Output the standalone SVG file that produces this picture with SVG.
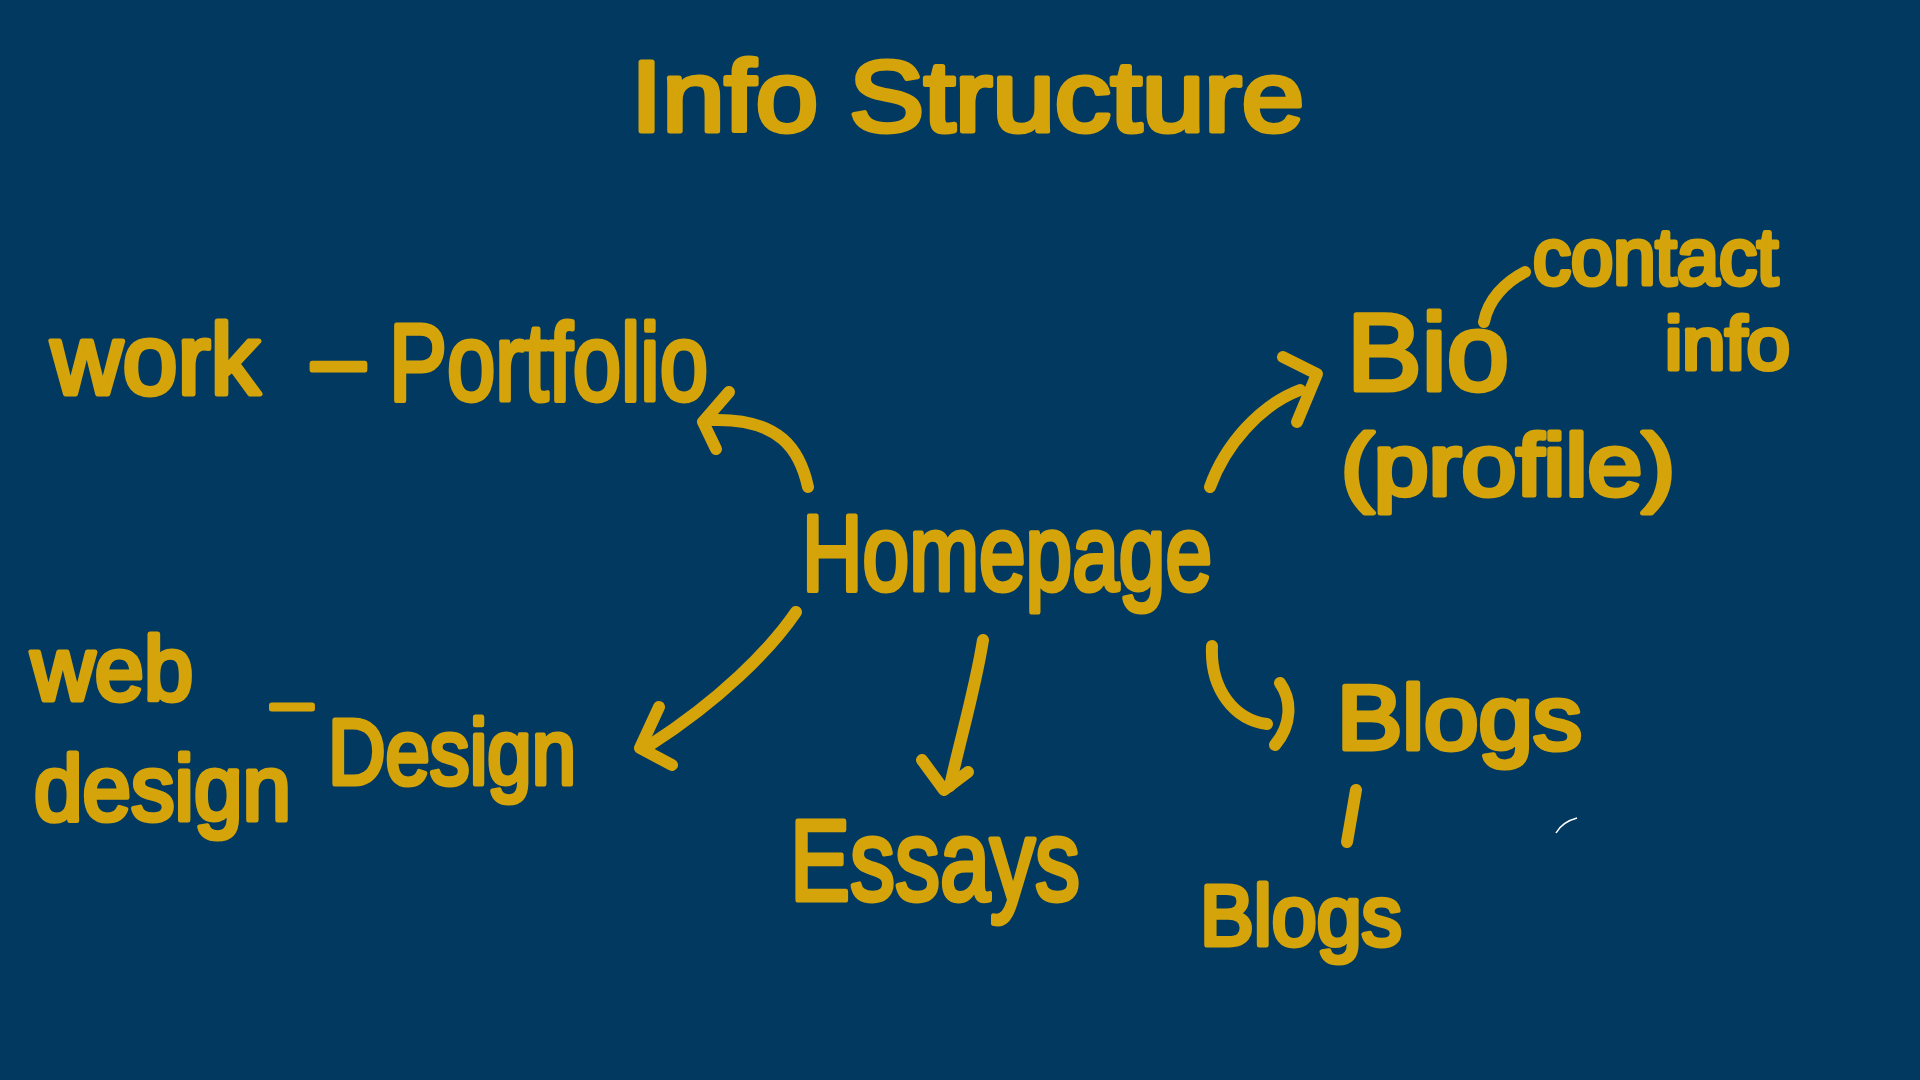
<svg xmlns="http://www.w3.org/2000/svg" width="1920" height="1080" viewBox="0 0 1920 1080">
<style>
.t{font-family:"Liberation Sans",Arial,sans-serif;font-weight:400;fill:#d5a30a;stroke:#d5a30a;stroke-width:5;stroke-linejoin:round;stroke-linecap:round}
.c{fill:none;stroke:#d5a30a;stroke-width:12;stroke-linecap:round;stroke-linejoin:round}
</style>
<rect width="1920" height="1080" fill="#013960"/>
<g id="title"><text class="t" x="631" y="131" font-size="100" textLength="673" lengthAdjust="spacingAndGlyphs">Info Structure</text></g>
<g id="homepage"><text class="t" x="802" y="590" font-size="108" textLength="410" lengthAdjust="spacingAndGlyphs">Homepage</text></g>
<g id="portfolio">
<text class="t" x="51" y="394" font-size="100" textLength="209" lengthAdjust="spacingAndGlyphs">work</text>
<text class="t" x="312" y="392" font-size="100" textLength="53" lengthAdjust="spacingAndGlyphs">–</text>
<text class="t" x="389" y="400" font-size="110" textLength="319" lengthAdjust="spacingAndGlyphs">Portfolio</text>
</g>
<g id="bio">
<text class="t" x="1347" y="390" font-size="110" textLength="162" lengthAdjust="spacingAndGlyphs">Bio</text>
<text class="t" x="1341" y="495" font-size="88" textLength="334" lengthAdjust="spacingAndGlyphs">(profile)</text>
<text class="t" x="1533" y="284" font-size="80" textLength="245" lengthAdjust="spacingAndGlyphs">contact</text>
<text class="t" x="1665" y="369" font-size="75" textLength="125" lengthAdjust="spacingAndGlyphs">info</text>
</g>
<g id="design">
<text class="t" x="31" y="700" font-size="90" textLength="162" lengthAdjust="spacingAndGlyphs">web</text>
<text class="t" x="34" y="820" font-size="92" textLength="257" lengthAdjust="spacingAndGlyphs">design</text>
<text class="t" x="272" y="722" font-size="60" textLength="40" lengthAdjust="spacingAndGlyphs">–</text>
<text class="t" x="328" y="784" font-size="92" textLength="248" lengthAdjust="spacingAndGlyphs">Design</text>
</g>
<g id="essays"><text class="t" x="790" y="900" font-size="115" textLength="290" lengthAdjust="spacingAndGlyphs">Essays</text></g>
<g id="blogs">
<text class="t" x="1337" y="749" font-size="90" textLength="245" lengthAdjust="spacingAndGlyphs">Blogs</text>
<text class="t" x="1200" y="945" font-size="85" textLength="202" lengthAdjust="spacingAndGlyphs">Blogs</text>
</g>
<g id="connectors">
<path class="c" d="M808,487 C800,450 780,418 712,420"/>
<path class="c" d="M729,392 L703,422 L716,449"/>
<path class="c" d="M1210,487 C1225,445 1260,405 1300,390"/>
<path class="c" d="M1283,357 L1317,374 L1297,422"/>
<path class="c" d="M796,612 C770,650 720,700 650,745"/>
<path class="c" d="M659,707 L640,748 L672,765"/>
<path class="c" d="M983,640 C975,690 960,740 950,786"/>
<path class="c" d="M922,760 L944,790 L968,772"/>
<path class="c" d="M1212,646 C1210,690 1235,720 1267,724"/>
<path class="c" d="M1280,683 C1292,700 1292,725 1275,745"/>
<path class="c" d="M1356,790 L1347,842"/>
<path class="c" d="M1484,322 C1488,300 1505,282 1525,272"/>
<path d="M1556,833 Q1562,822 1577,818" fill="none" stroke="#ffffff" stroke-width="1.5"/>
</g>
</svg>
